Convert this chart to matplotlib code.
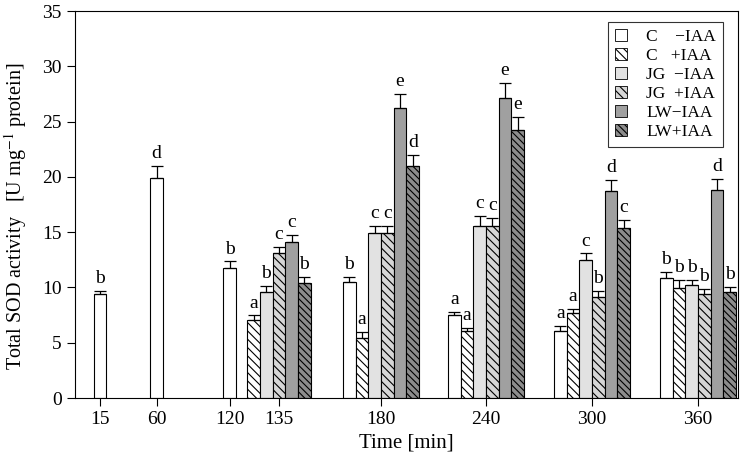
import matplotlib.pyplot as plt
import numpy as np

plt.rcParams['font.family'] = ['Liberation Serif', 'DejaVu Serif']
plt.rcParams['mathtext.fontset'] = 'stix'
plt.rcParams['hatch.linewidth'] = 0.8

times = ['15', '60', '120', '135', '180', '240', '300', '360']
series = ['C    \u2212IAA', 'C   +IAA', 'JG  \u2212IAA', 'JG  +IAA', 'LW\u2212IAA', 'LW+IAA']

# values per series, one entry per time point (None = not measured)
c_minus = [9.4, 19.9, 11.8, None, 10.45, 7.5, 6.05, 10.85]
c_plus = [None, None, None, 7.07, 5.47, 6.04, 7.68, 9.94]
jg_minus = [None, None, None, 9.6, 14.93, 15.56, 12.48, 10.2]
jg_plus = [None, None, None, 13.1, 14.93, 15.53, 9.13, 9.4]
lw_minus = [None, None, None, 14.1, 26.26, 27.17, 18.7, 18.8]
lw_plus = [None, None, None, 10.4, 20.97, 24.24, 15.38, 9.58]

c_minus_err = [0.3, 1.1, 0.55, None, 0.5, 0.3, 0.43, 0.55]
c_plus_err = [None, None, None, 0.4, 0.5, 0.33, 0.36, 0.73]
jg_minus_err = [None, None, None, 0.5, 0.65, 0.9, 0.6, 0.47]
jg_plus_err = [None, None, None, 0.6, 0.65, 0.73, 0.54, 0.5]
lw_minus_err = [None, None, None, 0.65, 1.25, 1.33, 1.0, 1.0]
lw_plus_err = [None, None, None, 0.55, 1.0, 1.2, 0.76, 0.5]

c_minus_lab = ['b', 'd', 'b', None, 'b', 'a', 'a', 'b']
c_plus_lab = [None, None, None, 'a', 'a', 'a', 'a', 'b']
jg_minus_lab = [None, None, None, 'b', 'c', 'c', 'c', 'b']
jg_plus_lab = [None, None, None, 'c', 'c', 'c', 'b', 'b']
lw_minus_lab = [None, None, None, 'c', 'e', 'e', 'd', 'd']
lw_plus_lab = [None, None, None, 'b', 'd', 'e', 'c', 'b']

values = [c_minus, c_plus, jg_minus, jg_plus, lw_minus, lw_plus]
errors = [c_minus_err, c_plus_err, jg_minus_err, jg_plus_err, lw_minus_err, lw_plus_err]
letters = [c_minus_lab, c_plus_lab, jg_minus_lab, jg_plus_lab, lw_minus_lab, lw_plus_lab]

# layout (x in pixel-like units)
tick_x = [100, 156.5, 229.5, 279, 381, 486, 592, 698]
w = 12.7
colors = ['white', 'white', '#e2e2e2', '#d6d6d6', '#a0a0a0', '#8c8c8c']
hatches = [None, '\\\\\\\\', None, '\\\\\\\\', None, '\\\\\\\\\\']

fig = plt.figure(figsize=(7.42, 4.65), dpi=100)
ax = fig.add_axes([75 / 742, 67 / 465, 663 / 742, 387 / 465])

for j, t in enumerate(times):
    present = [s for s in range(6) if values[s][j] is not None]
    n = len(present)
    for k, s in enumerate(present):
        x = tick_x[j] + (k - (n - 1) / 2) * w
        v = values[s][j]
        e = errors[s][j]
        ax.bar(x, v, width=w, color=colors[s], edgecolor='black', linewidth=0.8,
               hatch=hatches[s])
        ax.errorbar(x, v, yerr=[[0], [e]], fmt='none', ecolor='black',
                    elinewidth=0.9, capsize=4, capthick=0.9)
        ax.text(x, v + e + 0.35, letters[s][j], ha='center', va='bottom', fontsize=14)

# legend
handles = [plt.Rectangle((0, 0), 1, 1, facecolor=colors[s], edgecolor='black',
                         linewidth=0.6, hatch=hatches[s]) for s in range(6)]
leg = ax.legend(handles, series, loc='upper right', bbox_to_anchor=(0.977, 0.972),
                borderaxespad=0, fontsize=12.5, frameon=True, fancybox=False,
                edgecolor='black', handlelength=0.7, handleheight=0.7,
                handletextpad=1.1, labelspacing=0.17, borderpad=0.4)
leg.get_frame().set_linewidth(0.8)

ax.set_xlim(75, 738)
ax.set_ylim(0, 35)
ax.set_xticks(tick_x)
ax.set_xticklabels(times)
ax.set_yticks(np.arange(0, 36, 5))
ax.tick_params(direction='out', length=6, width=0.8, labelsize=14)
for sp in ax.spines.values():
    sp.set_linewidth(0.8)

ax.set_xlabel('Time [min]', fontsize=15)
ax.set_ylabel('Total SOD activity   [U mg$^{-1}$ protein]', fontsize=14.5)
ax.yaxis.set_label_coords(-0.07, 0.47)

fig.savefig('out.png', dpi=100)
